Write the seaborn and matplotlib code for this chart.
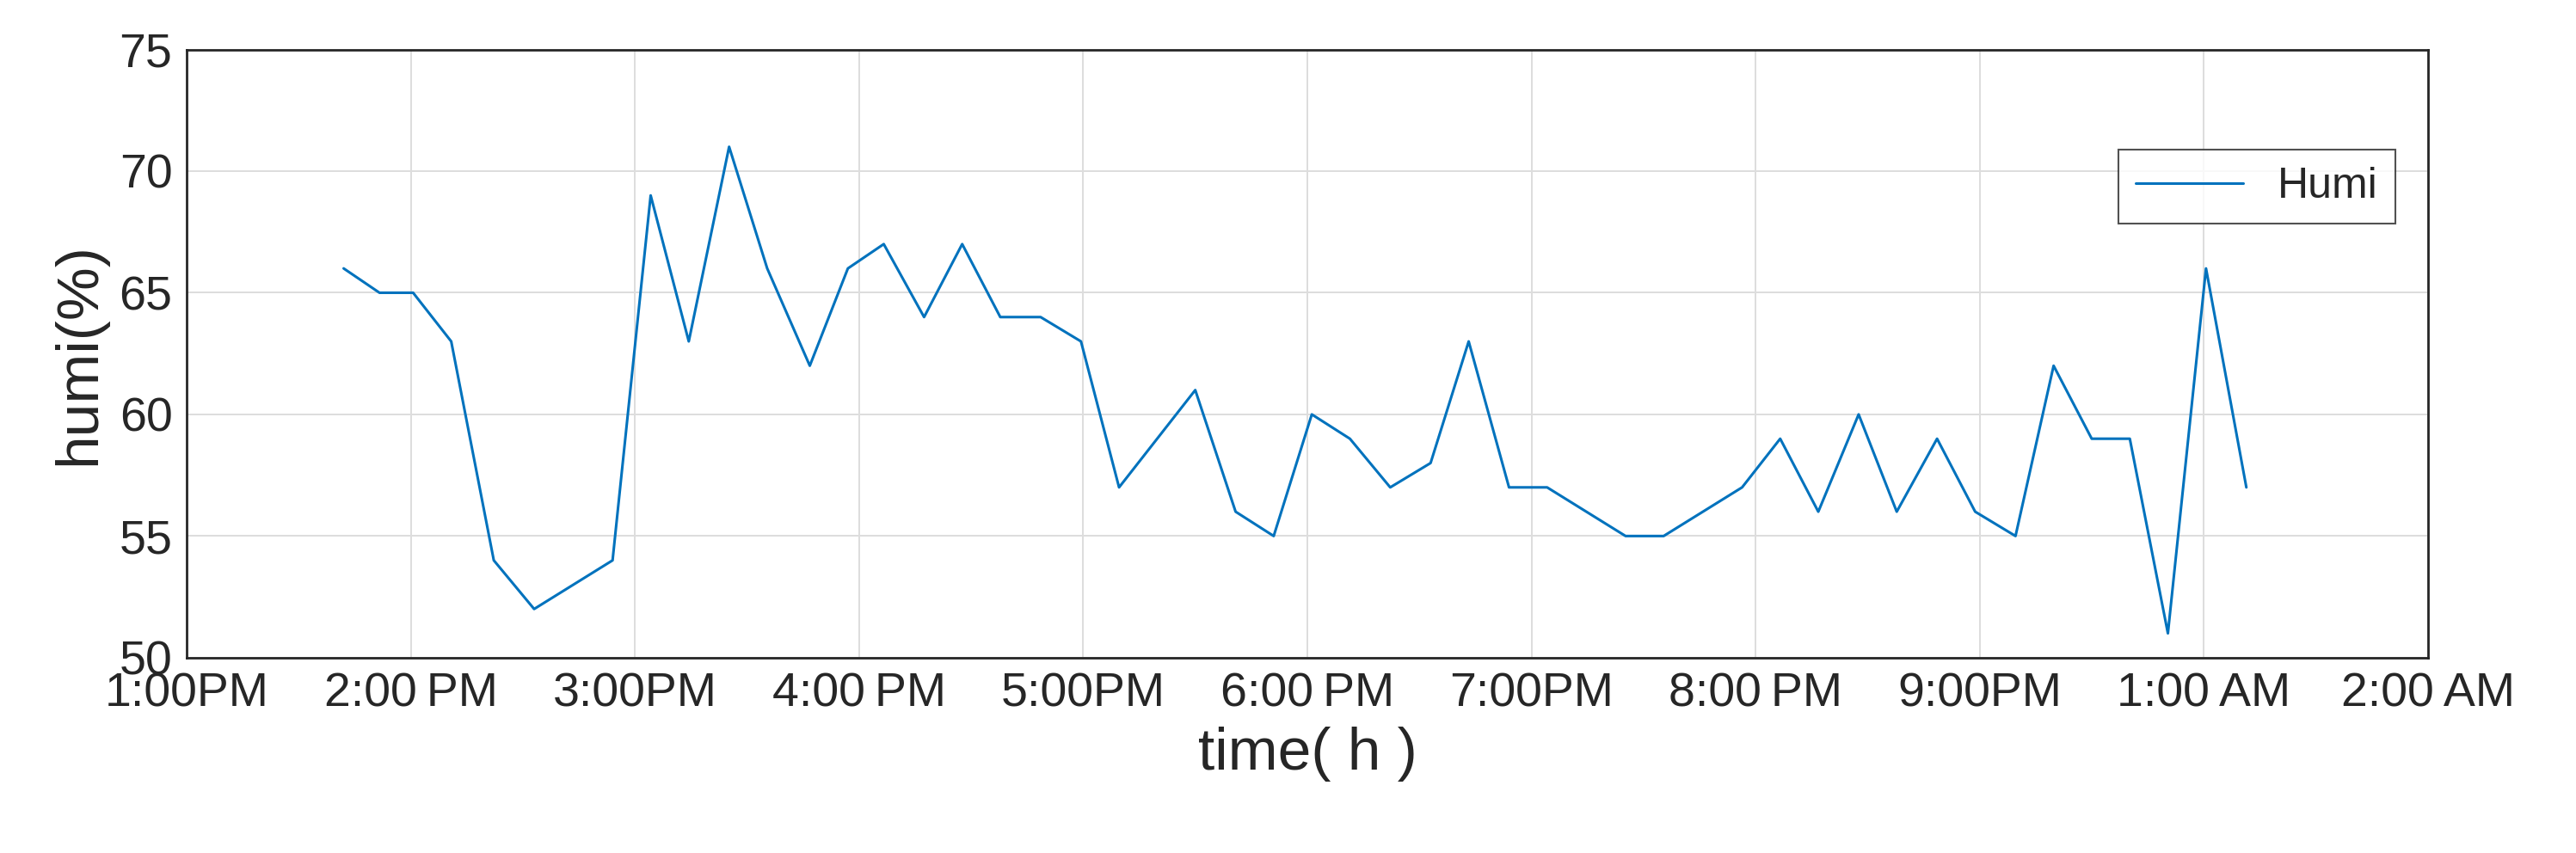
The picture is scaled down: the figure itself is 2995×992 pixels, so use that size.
import matplotlib
matplotlib.use("Agg")
import matplotlib.pyplot as plt
import seaborn as sns
import pandas as pd

hours = [0.70,0.86,1.01,1.18,1.37,1.55,1.90,2.07,2.24,2.42,2.59,2.78,2.95,3.11,3.29,3.46,3.63,3.81,3.99,4.16,4.50,4.68,4.85,5.02,5.19,5.37,5.55,5.72,5.90,6.07,6.42,6.59,6.94,7.11,7.28,7.46,7.63,7.81,7.98,8.16,8.33,8.50,8.67,8.84,9.01,9.19]
humi = [66,65,65,63,54,52,54,69,63,71,66,62,66,67,64,67,64,64,63,57,61,56,55,60,59,57,58,63,57,57,55,55,57,59,56,60,56,59,56,55,62,59,59,51,66,57]
tick_labels = ["1:00PM","2:00\u2009PM","3:00PM","4:00\u2009PM","5:00PM","6:00\u2009PM","7:00PM","8:00\u2009PM","9:00PM","1:00\u2009AM","2:00\u2009AM"]

df = pd.DataFrame({"t": hours, "Humi": humi})
sns.set_theme(style="white")
plt.rcParams['font.family'] = ['Liberation Sans', 'DejaVu Sans']
fig = plt.figure(figsize=(29.95, 9.92), dpi=100)
ax = fig.add_axes([0.0725, 0.229, 0.870, 0.713])
sns.lineplot(data=df, x="t", y="Humi", ax=ax, color="#0072BD", linewidth=2.2, label="Humi")
ax.set_xlim(0, 10)
ax.set_ylim(50, 75)
ax.set_xticks(range(11))
ax.set_xticklabels(tick_labels)
ax.set_yticks(range(50, 76, 5))
ax.tick_params(labelsize=40, direction="in", length=10, pad=12)
ax.grid(True, color="#dddddd", linewidth=1.4)
for s in ax.spines.values():
    s.set_color("#262626"); s.set_linewidth(2)
ax.set_xlabel("time( h )", fontsize=50, labelpad=8)
ax.set_ylabel("humi(%)", fontsize=50, labelpad=10)
leg = ax.legend(loc="upper right", bbox_to_anchor=(0.995, 0.87), fontsize=36, fancybox=False, edgecolor="#262626", handlelength=2.5)
leg.get_frame().set_linewidth(1.5)
fig.savefig("out.png", dpi=100)
